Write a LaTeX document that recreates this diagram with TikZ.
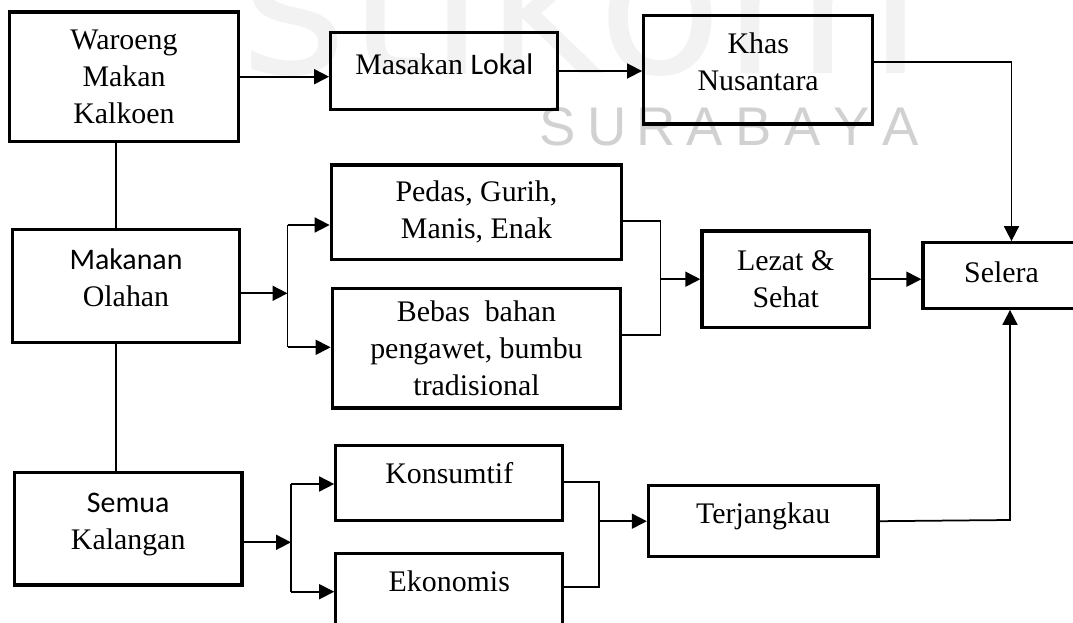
\documentclass[tikz,border=0pt]{standalone}
\usepackage{fontspec}
\setmainfont{Liberation Serif}
\newfontfamily\calibri{Carlito}
\newfontfamily\logofont{DejaVu Sans}
\newfontfamily\cityfont{Liberation Sans}
\usetikzlibrary{arrows.meta}
\tikzset{
  box/.style={draw, line width=0.65mm, inner sep=0pt, align=center, font=\fontsize{17}{21}\selectfont},
  link/.style={line width=0.35mm},
  arr/.style={link, -{Triangle[length=3mm, width=3mm]}},
  wmark/.style={inner sep=0pt, text=black!18, font=\cityfont\fontsize{31}{31}\selectfont}
}

\begin{document}
\begin{tikzpicture}[x=0.2mm, y=-0.2mm]
		%%%%% START %%%%%
		\useasboundingbox (0,0) rectangle (1073,623);
		\clip (0,0) rectangle (1073,623);
		
		% watermark
		\node[anchor=base west, inner sep=0pt, text=black!5, font=\logofont\fontsize{117}{117}\selectfont] (stikom) at (240,74) {stikom};
		\foreach \l [count=\i] in {S,U,R,A,B,A,Y,A}
			\node[wmark, anchor=base] (sby\i) at ({557.7+(\i-1)*49},146) {\l};
		
		% boxes
		\node[box, minimum width=45.7mm, minimum height=25.9mm] (waroeng) at (124,76.7) {Waroeng\\Makan\\Kalkoen};
		\node[box, minimum width=45.4mm, minimum height=15.3mm, text depth=7.5pt] (masakan) at (444.2,71) {Masakan {\calibri Lokal}};
		\node[box, minimum width=45.8mm, minimum height=21.7mm, text depth=9.5pt] (khas) at (758.2,69.7) {Khas\\Nusantara};
		
		\node[box, minimum width=45.5mm, minimum height=22.6mm, text depth=8.9pt] (makanan) at (126,285.8) {{\calibri Makanan}\\Olahan};
		\node[box, minimum width=58.1mm, minimum height=18.9mm] (pedas) at (476.5,212.2) {Pedas, Gurih,\\Manis, Enak};
		\node[box, minimum width=57.7mm, minimum height=23.9mm] (bebas) at (476.5,348.2) {Bebas~ bahan\\pengawet, bumbu\\tradisional};
		\node[box, minimum width=33.5mm, minimum height=19.3mm] (lezat) at (785.7,279.2) {Lezat \&\\Sehat};
		\node[box, minimum width=31.4mm, minimum height=13.1mm, text depth=4pt] (selera) at (1001.5,275.5) {Selera};
		
		\node[box, minimum width=45.5mm, minimum height=22.5mm, text depth=8.3pt] (semua) at (128.2,528.7) {{\calibri Semua}\\Kalangan};
		\node[box, minimum width=45.4mm, minimum height=15.1mm, text depth=11.5pt] (konsumtif) at (449.3,482.9) {Konsumtif};
		\node[box, minimum width=45.4mm, minimum height=15.1mm, text depth=11.5pt] (ekonomis) at (449.3,591.2) {Ekonomis};
		\node[box, minimum width=45.9mm, minimum height=14.2mm, text depth=9pt] (terjangkau) at (763.2,521.2) {Terjangkau};
		
		% top row
		\draw[arr] (waroeng.east) -- (masakan.west |- waroeng.east);
		\draw[arr] (masakan.east) -- (khas.west |- masakan.east);
		\coordinate (kt) at (1011.5,62);
		\draw[arr] (khas.east |- kt) -- (kt) -- (kt |- selera.north);
		
		% left column
		\coordinate (v1) at (116,0);
		\draw[link] (waroeng.south -| v1) -- (makanan.north -| v1);
		\draw[link] (makanan.south -| v1) -- (semua.north -| v1);
		
		% makanan olahan
		\coordinate (ma) at (287.5,225);
		\coordinate (mb) at (287.5,347.3);
		\coordinate (mc) at (287.5,293.3);
		\draw[arr] (makanan.east |- mc) -- (mc);
		\draw[link] (ma) -- (mb);
		\draw[arr] (ma) -- (pedas.west |- ma);
		\draw[arr] (mb) -- (bebas.west |- mb);
		
		\coordinate (pa) at (660.5,220.7);
		\coordinate (pb) at (660.5,335);
		\draw[link] (pedas.east |- pa) -- (pa) -- (pb) -- (bebas.east |- pb);
		\draw[arr] (pa |- lezat.west) -- (lezat.west);
		\draw[arr] (lezat.east) -- (selera.west |- lezat.east);
		
		% semua kalangan
		\coordinate (sa) at (291,484);
		\coordinate (sb) at (291,591.7);
		\coordinate (sc) at (291,542.3);
		\draw[arr] (semua.east |- sc) -- (sc);
		\draw[link] (sa) -- (sb);
		\draw[arr] (sa) -- (konsumtif.west |- sa);
		\draw[arr] (sb) -- (ekonomis.west |- sb);
		
		\coordinate (ka) at (599.3,481.7);
		\coordinate (kb) at (599.3,586.7);
		\draw[link] (konsumtif.east |- ka) -- (ka) -- (kb) -- (ekonomis.east |- kb);
		\draw[arr] (ka |- terjangkau.west) -- (terjangkau.west);
		\coordinate (tr) at (1010,520);
		\draw[arr] (terjangkau.east) -- (tr) -- (tr |- selera.south);
		
		%%%%% END %%%%%
	\end{tikzpicture}
\end{document}
